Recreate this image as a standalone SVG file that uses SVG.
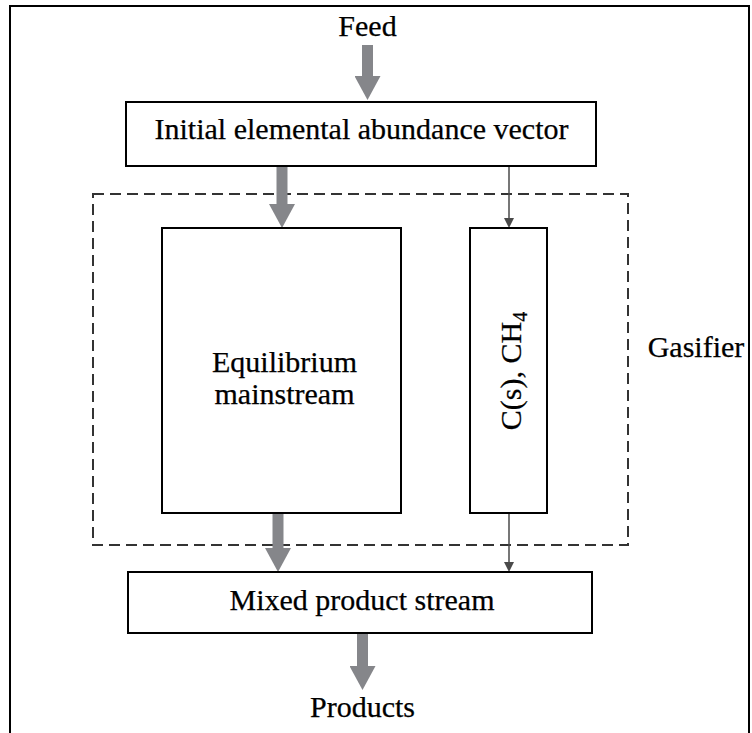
<svg xmlns="http://www.w3.org/2000/svg" width="752" height="733" viewBox="0 0 752 733">
  <style>
    .box { fill: #fff; stroke: #000; stroke-width: 2; }
    .lbl { font-family: "Liberation Serif", "Times New Roman", serif; font-size: 30px; fill: #000; stroke: #000; stroke-width: 0.25; text-anchor: middle; }
    .thick { stroke: #85868a; stroke-width: 11; fill: none; }
    .thin { stroke: #4a4a4a; stroke-width: 1.5; fill: none; }
  </style>
  <defs>
    <!-- wide grey head for the main material flow -->
    <marker id="bighead" markerUnits="userSpaceOnUse" markerWidth="24" markerHeight="26" refX="0" refY="13" orient="auto" viewBox="0 0 24 26">
      <path d="M0,0 L24,13 L0,26 Z" fill="#85868a"/>
    </marker>
    <!-- small head for the bypass species -->
    <marker id="smallhead" markerUnits="userSpaceOnUse" markerWidth="10" markerHeight="10" refX="0" refY="5" orient="auto" viewBox="0 0 10 10">
      <path d="M0,0 L10,5 L0,10 Z" fill="#4a4a4a"/>
    </marker>
  </defs>

  <rect width="752" height="733" fill="#fff"/>
  <!-- outer frame (open at the bottom) -->
  <path d="M10,733 L10,6 L749,6 L749,733" fill="none" stroke="#000" stroke-width="2"/>

  <text class="lbl" x="367.5" y="36">Feed</text>
  <text class="lbl" x="362.5" y="717">Products</text>

  <!-- gasifier boundary -->
  <g id="gasifier">
    <rect x="93" y="194" width="535" height="351" fill="none" stroke="#333" stroke-width="2" stroke-dasharray="11,6"/>
    <text class="lbl" x="696" y="357">Gasifier</text>
  </g>

  <g id="connectors">
    <line class="thick" x1="367.5" y1="45" x2="367.5" y2="76" marker-end="url(#bighead)"/>
    <line class="thick" x1="282" y1="166" x2="282" y2="204" marker-end="url(#bighead)"/>
    <line class="thin" x1="509" y1="166" x2="509" y2="218" marker-end="url(#smallhead)"/>
    <line class="thick" x1="278" y1="513" x2="278" y2="548" marker-end="url(#bighead)"/>
    <line class="thin" x1="509" y1="513" x2="509" y2="562" marker-end="url(#smallhead)"/>
    <line class="thick" x1="362.5" y1="633" x2="362.5" y2="666" marker-end="url(#bighead)"/>
  </g>

  <g id="initial">
    <rect class="box" x="126" y="102" width="470" height="64"/>
    <text class="lbl" x="361.5" y="139">Initial elemental abundance vector</text>
  </g>

  <g id="equilibrium">
    <rect class="box" x="162" y="228" width="239" height="285"/>
    <text class="lbl" x="284.5" y="372">Equilibrium</text>
    <text class="lbl" x="284.5" y="404">mainstream</text>
  </g>

  <g id="carbon">
    <rect class="box" x="470" y="228" width="77" height="285"/>
    <text class="lbl" transform="translate(521,371) rotate(-90)">C(s), CH<tspan font-size="20" dy="6">4</tspan></text>
  </g>

  <g id="mixed">
    <rect class="box" x="128" y="572" width="464" height="61"/>
    <text class="lbl" x="362" y="610">Mixed product stream</text>
  </g>
</svg>
